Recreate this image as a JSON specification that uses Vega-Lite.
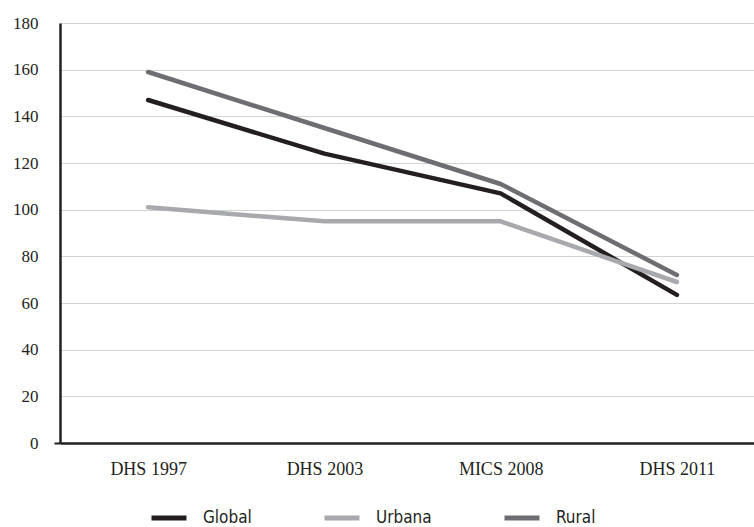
{
  "$schema": "https://vega.github.io/schema/vega-lite/v6.json",
  "width": 705,
  "height": 420,
  "padding": {"left": 12, "top": 14, "right": 0, "bottom": 0},
  "background": "white",
  "data": {"values": [
    {"serie": "Global", "enquete": "DHS 1997", "valeur": 147},
    {"serie": "Global", "enquete": "DHS 2003", "valeur": 124},
    {"serie": "Global", "enquete": "MICS 2008", "valeur": 107},
    {"serie": "Global", "enquete": "DHS 2011", "valeur": 63.5},
    {"serie": "Urbana", "enquete": "DHS 1997", "valeur": 101},
    {"serie": "Urbana", "enquete": "DHS 2003", "valeur": 95},
    {"serie": "Urbana", "enquete": "MICS 2008", "valeur": 95},
    {"serie": "Urbana", "enquete": "DHS 2011", "valeur": 69},
    {"serie": "Rural", "enquete": "DHS 1997", "valeur": 159},
    {"serie": "Rural", "enquete": "DHS 2003", "valeur": 135},
    {"serie": "Rural", "enquete": "MICS 2008", "valeur": 111},
    {"serie": "Rural", "enquete": "DHS 2011", "valeur": 72}
  ]},
  "config": {
    "view": {"stroke": null},
    "axis": {"labelFont": "Liberation Serif", "labelColor": "#231f20", "titleFont": "Liberation Serif"}
  },
  "mark": {"type": "line", "strokeWidth": 4.5, "strokeCap": "round", "strokeJoin": "round"},
  "encoding": {
    "x": {
      "field": "enquete", "type": "ordinal",
      "sort": ["DHS 1997", "DHS 2003", "MICS 2008", "DHS 2011"],
      "scale": {"type": "point", "padding": 0.5},
      "axis": {"title": null, "labelAngle": 0, "labelFontSize": 18, "ticks": false, "labelPadding": 17, "domainColor": "#231f20", "domainWidth": 2.5, "grid": false}
    },
    "y": {
      "field": "valeur", "type": "quantitative",
      "scale": {"domain": [0, 180], "nice": false},
      "axis": {
        "title": null, "values": [0, 20, 40, 60, 80, 100, 120, 140, 160, 180],
        "labelFontSize": 17, "labelPadding": 16,
        "tickSize": 6, "tickWidth": 2, "tickColor": "#231f20",
        "tickOpacity": {"condition": {"test": "datum.value === 0", "value": 1}, "value": 0},
        "domainColor": "#231f20", "domainWidth": 2.5,
        "grid": true, "gridColor": "#d1d3d4", "gridWidth": 1.2
      }
    },
    "color": {
      "field": "serie", "type": "nominal",
      "scale": {"domain": ["Global", "Urbana", "Rural"], "range": ["#231f20", "#a7a9ac", "#6d6e71"]},
      "legend": {
        "title": null, "orient": "none", "legendX": 89, "legendY": 475, "padding": 0,
        "direction": "horizontal", "columns": 3, "columnPadding": 62,
        "symbolType": "stroke", "symbolSize": 1225, "symbolStrokeWidth": 5,
        "labelFont": "DejaVu Sans Condensed", "labelFontWeight": 500, "labelFontSize": 17, "labelColor": "#231f20",
        "labelOffset": 14
      }
    }
  }
}
